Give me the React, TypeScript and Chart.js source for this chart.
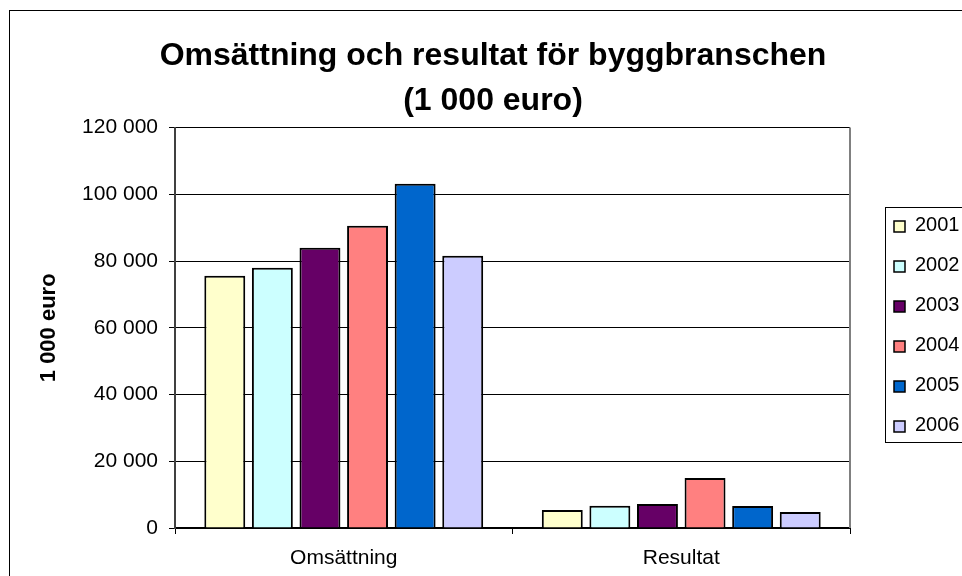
import React, { useEffect, useRef } from 'react';
import { Chart, registerables } from 'chart.js';

Chart.register(...registerables);

const categories = ['Omsättning', 'Resultat'];
const years = ['2001', '2002', '2003', '2004', '2005', '2006'];
const values2001 = [75600, 5400];
const values2002 = [78000, 6700];
const values2003 = [84000, 7200];
const values2004 = [90600, 15000];
const values2005 = [103200, 6600];
const values2006 = [81600, 4800];
const seriesValues = [values2001, values2002, values2003, values2004, values2005, values2006];
const seriesColors = ['#FFFFCC', '#CCFFFF', '#660066', '#FF8080', '#0066CC', '#CCCCFF'];
const yMin = 0;
const yMax = 120000;
const yStep = 20000;
const titleLines = ['Omsättning och resultat för byggbranschen', '(1 000 euro)'];
const yAxisTitle = '1 000 euro';

const FONT = '"Liberation Sans", Arial, Helvetica, sans-serif';

const fmt = (v: number) => String(v).replace(/\B(?=(\d{3})+(?!\d))/g, ' ');

const framePlugin = {
  id: 'frame',
  afterLayout(chart: any) {
    const tb = chart.titleBlock;
    if (tb) {
      tb.left = 24;
      tb.right = 962;
      tb.width = 938;
    }
  },
  beforeDraw(chart: any) {
    const ctx = chart.ctx;
    ctx.save();
    ctx.fillStyle = '#ffffff';
    ctx.fillRect(0, 0, chart.width, chart.height);
    ctx.strokeStyle = '#000000';
    ctx.lineWidth = 1;
    ctx.strokeRect(9.5, 10.5, 1200, 1200);
    ctx.restore();
  },
  afterDatasetsDraw(chart: any) {
    const { ctx, chartArea } = chart;
    ctx.save();
    ctx.strokeStyle = '#808080';
    ctx.lineWidth = 2;
    ctx.beginPath();
    ctx.moveTo(chartArea.right, chartArea.top);
    ctx.lineTo(chartArea.right, chartArea.bottom);
    ctx.stroke();
    ctx.restore();
  },
  afterDraw(chart: any) {
    const ctx = chart.ctx;
    const ds = chart.data.datasets;
    ctx.save();
    ctx.strokeStyle = '#000000';
    ctx.lineWidth = 1;
    ctx.strokeRect(885.5, 207.5, 200, 235);
    ctx.font = '20px ' + FONT;
    ctx.textBaseline = 'alphabetic';
    ctx.textAlign = 'left';
    ds.forEach((d: any, i: number) => {
      const base = 231 + i * 40;
      ctx.fillStyle = d.backgroundColor;
      ctx.fillRect(894, base - 10, 11, 11);
      ctx.lineWidth = 1.5;
      ctx.strokeStyle = '#000000';
      ctx.strokeRect(894, base - 10, 11, 11);
      ctx.fillStyle = '#000000';
      ctx.fillText(d.label, 915, base);
    });
    ctx.restore();
  },
};

export default function App() {
  const ref = useRef<HTMLCanvasElement | null>(null);
  useEffect(() => {
    if (!ref.current) return;
    Chart.defaults.font.family = FONT;
    const chart = new Chart(ref.current, {
      type: 'bar',
      data: {
        labels: categories,
        datasets: years.map((y, i) => ({
          label: y,
          data: seriesValues[i],
          backgroundColor: seriesColors[i],
          borderColor: '#000000',
          borderWidth: 2,
          categoryPercentage: 0.846,
          barPercentage: 0.86,
        })),
      },
      options: {
        animation: false,
        responsive: false,
        devicePixelRatio: 1,
        layout: { padding: { left: 0, right: 112, top: 0, bottom: 0 } },
        plugins: {
          legend: { display: false },
          tooltip: { enabled: false },
          title: {
            display: true,
            text: titleLines,
            color: '#000000',
            font: { size: 32, weight: 'bold', family: FONT, lineHeight: 1.4 },
            padding: { top: 34, bottom: 4 },
          },
        },
        scales: {
          x: {
            grid: {
              display: true,
              drawOnChartArea: false,
              drawTicks: true,
              tickLength: 6,
              color: '#000000',
              offset: true,
            },
            border: { display: true, color: '#000000', width: 2 },
            ticks: { color: '#000000', font: { size: 21, family: FONT }, padding: 12 },
            afterFit(scale: any) {
              scale.height = 48;
            },
          },
          y: {
            min: yMin,
            max: yMax,
            ticks: {
              stepSize: yStep,
              color: '#000000',
              font: { size: 21, family: FONT },
              padding: 11,
              callback: (v: any) => fmt(Number(v)),
            },
            grid: { color: '#000000', lineWidth: 1, tickLength: 6, drawTicks: true },
            border: { display: true, color: '#404040', width: 2 },
            title: {
              display: true,
              text: yAxisTitle,
              color: '#000000',
              font: { size: 22, weight: 'bold', family: FONT },
              padding: { top: 36, bottom: 0 },
            },
            afterFit(scale: any) {
              scale.width = 175;
            },
          },
        },
      },
      plugins: [framePlugin],
    } as any);
    return () => chart.destroy();
  }, []);
  return (
    <div style={{ position: 'absolute', left: 0, top: 0, width: 962, height: 576, overflow: 'hidden' }}>
      <canvas ref={ref} width={962} height={576} style={{ display: 'block' }} />
    </div>
  );
}
